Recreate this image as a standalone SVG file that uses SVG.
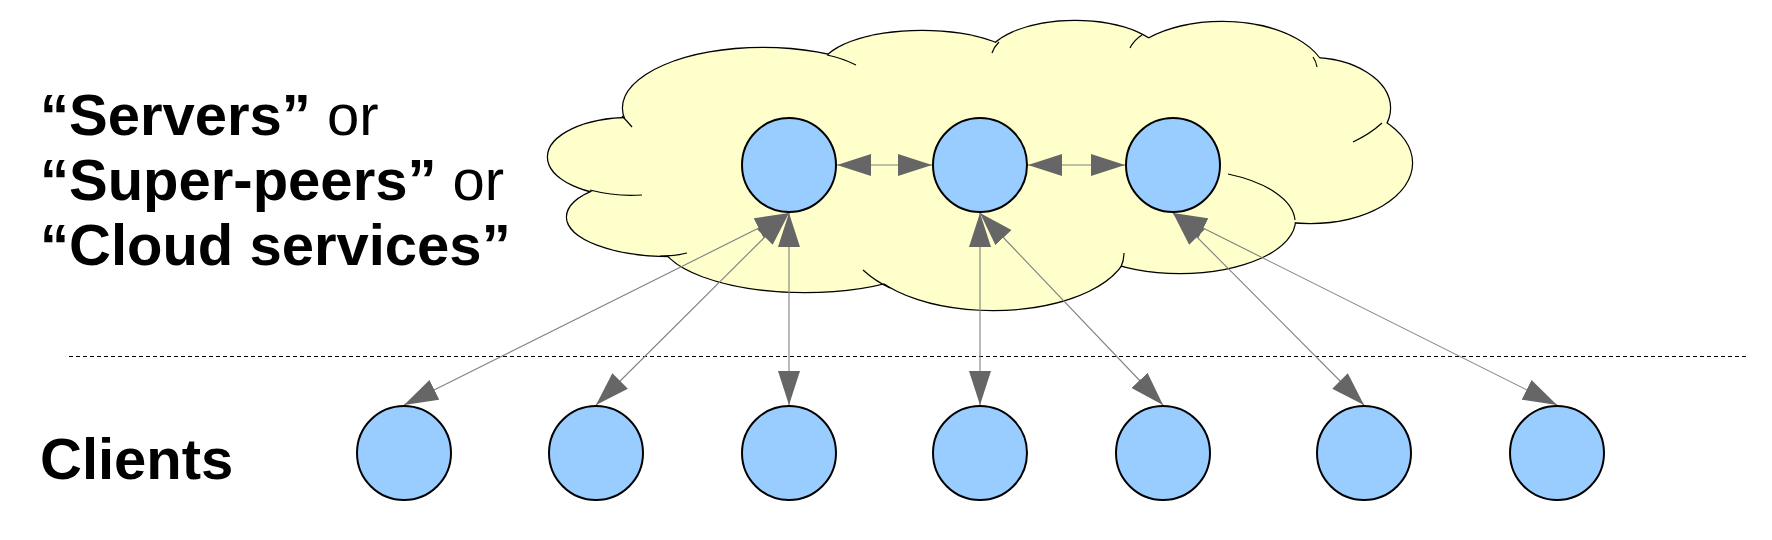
<svg xmlns="http://www.w3.org/2000/svg" width="1772" height="540" viewBox="0 0 1772 540">
  <style>
    .lbl{font-family:"Liberation Sans",Arial,sans-serif;font-size:58px;fill:#000}
    .b{font-weight:bold}
    .n{font-weight:normal}
    .node{fill:#99ccff;stroke:#000;stroke-width:2}
    .cl-out{fill:#ffffcc;stroke:#000;stroke-width:2.4}
    .cl-in{fill:#ffffcc;stroke:none}
    .hook{fill:none;stroke:#000;stroke-width:1.2}
    .edge{fill:none;stroke:#808080;stroke-width:1.1;marker-start:url(#ah);marker-end:url(#ah)}
  </style>
  <defs>
    <marker id="ah" viewBox="0 0 34 22" refX="34" refY="11" markerWidth="34" markerHeight="22" markerUnits="userSpaceOnUse" orient="auto-start-reverse">
      <path d="M0,0 L34,11 L0,22 z" fill="#666666"/>
    </marker>
    <g id="cloudShapes">
      <ellipse cx="630" cy="157" rx="82" ry="39"/>
      <ellipse cx="763" cy="108" rx="140" ry="60"/>
      <ellipse cx="922" cy="68" rx="100" ry="37"/>
      <ellipse cx="1075" cy="60" rx="88" ry="39"/>
      <ellipse cx="1222" cy="80" rx="105" ry="58"/>
      <ellipse cx="1310" cy="108" rx="80" ry="50"/>
      <ellipse cx="1310" cy="163" rx="102" ry="60"/>
      <ellipse cx="1180" cy="220" rx="115" ry="53"/>
      <ellipse cx="993" cy="245" rx="135" ry="65"/>
      <ellipse cx="805" cy="238" rx="145" ry="54"/>
      <ellipse cx="670" cy="217" rx="103" ry="39"/>
    </g>
  </defs>
  <rect x="0" y="0" width="1772" height="540" fill="#ffffff"/>

  <g id="cloud">
    <use href="#cloudShapes" class="cl-out"/>
    <use href="#cloudShapes" class="cl-in"/>
    <polygon class="cl-in" points="630,157 763,108 922,68 1075,60 1222,80 1310,108 1310,163 1180,220 993,245 805,238 670,217"/>
    <path class="hook" d="M622,116 Q627,121 632,127"/>
    <path class="hook" d="M590,190 Q617,197 642,195"/>
    <path class="hook" d="M660,256 Q675,256 687,253"/>
    <path class="hook" d="M827,55 Q842,58 856,65"/>
    <path class="hook" d="M992,53 Q994,47 999,42"/>
    <path class="hook" d="M1130,48 Q1134,40 1142,35"/>
    <path class="hook" d="M1313,57 Q1316,61 1317,67"/>
    <path class="hook" d="M1382,123 Q1370,134 1353,142"/>
    <path class="hook" d="M1228,174 A115,53 0 0 1 1295,220"/>
    <path class="hook" d="M1124,253 Q1124,260 1121,267"/>
    <path class="hook" d="M863,270 Q875,281 890,288"/>
  </g>

  <g id="labels">
    <text class="lbl" x="40" y="135"><tspan class="b">“Servers”</tspan><tspan class="n"> or</tspan></text>
    <text class="lbl" x="40" y="200"><tspan class="b">“Super-peers”</tspan><tspan class="n"> or</tspan></text>
    <text class="lbl b" x="40" y="265">“Cloud services”</text>
    <text class="lbl b" x="40" y="479">Clients</text>
  </g>

  <line id="divider" x1="69" y1="356.5" x2="1749" y2="356.5" stroke="#000" stroke-width="1" stroke-dasharray="4 3"/>

  <g id="connectors">
    <line class="edge" x1="837" y1="165" x2="932" y2="165"/>
    <line class="edge" x1="1028" y1="165" x2="1125" y2="165"/>
    <line class="edge" x1="789" y1="213" x2="404" y2="405"/>
    <line class="edge" x1="789" y1="213" x2="596" y2="405"/>
    <line class="edge" x1="789" y1="213" x2="789" y2="405"/>
    <line class="edge" x1="980" y1="213" x2="980" y2="405"/>
    <line class="edge" x1="980" y1="213" x2="1163" y2="405"/>
    <line class="edge" x1="1173" y1="213" x2="1364" y2="405"/>
    <line class="edge" x1="1173" y1="213" x2="1557" y2="405"/>
  </g>

  <g id="server1"><circle class="node" cx="789" cy="165" r="47"/></g>
  <g id="server2"><circle class="node" cx="980" cy="165" r="47"/></g>
  <g id="server3"><circle class="node" cx="1173" cy="165" r="47"/></g>

  <g id="client1"><circle class="node" cx="404" cy="453" r="47"/></g>
  <g id="client2"><circle class="node" cx="596" cy="453" r="47"/></g>
  <g id="client3"><circle class="node" cx="789" cy="453" r="47"/></g>
  <g id="client4"><circle class="node" cx="980" cy="453" r="47"/></g>
  <g id="client5"><circle class="node" cx="1163" cy="453" r="47"/></g>
  <g id="client6"><circle class="node" cx="1364" cy="453" r="47"/></g>
  <g id="client7"><circle class="node" cx="1557" cy="453" r="47"/></g>
</svg>
